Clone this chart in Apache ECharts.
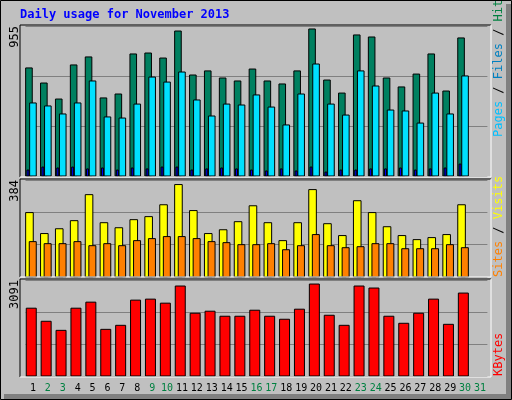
<!DOCTYPE html>
<html><head><meta charset="utf-8">
<script src="https://cdn.jsdelivr.net/npm/echarts@6/dist/echarts.min.js"></script>
<style>html,body{margin:0;padding:0;background:#c0c0c0}#c{width:512px;height:400px}</style>
</head><body><div id="c"></div>
<script>
const days = Array.from({length:31},(_,i)=>String(i+1));
const weekendDays = ['2','3','9','10','16','17','23','24','30','31'];
const hits  = [688,592,490,707,758,497,522,777,783,751,923,643,669,624,605,681,605,586,669,936,611,528,898,885,624,567,649,777,541,879,0];
const files = [465,446,395,465,605,376,369,458,630,598,662,484,382,458,452,516,439,325,522,713,458,388,669,573,420,414,337,528,395,637,0];
const pages = [38,57,51,57,45,51,38,51,45,57,57,38,45,51,45,38,32,45,32,57,25,38,38,45,45,51,38,45,51,76,0];
const visits= [255,172,191,223,326,215,195,227,239,286,366,263,172,187,219,282,215,144,215,346,211,164,302,255,199,164,148,156,168,286,0];
const sites = [140,132,132,140,124,132,124,144,152,160,160,152,140,136,128,128,132,108,124,168,124,116,120,132,132,112,112,112,128,116,0];
const kbytes= [2183,1762,1470,2183,2378,1502,1632,2443,2475,2345,2897,2021,2086,1924,1924,2118,1924,1827,2151,2961,1956,1632,2897,2832,1924,1697,2021,2475,1664,2670,0];
const maxHits = 955, maxVisits = 384, maxKB = 3091;

const mono = 'DejaVu Sans Mono';
const grids = [
  {left:25.5, width:461.9, top:26, height:150},
  {left:25.5, width:461.9, top:180, height:97},
  {left:25.5, width:461.9, top:280, height:96}
];
function yAx(i, max){
  return {type:'value', gridIndex:i, min:0, max:max, interval:max/3,
    axisLine:{show:false}, axisTick:{show:false},
    splitLine:{lineStyle:{color:'#808080', width:1}},
    axisLabel:{rotate:90, fontFamily:mono, fontSize:12, color:'#000', margin:5,
      align:'right', verticalAlign:'bottom',
      formatter:v=> v===max ? String(max) : ''}};
}
function xAx(i, show){
  return {type:'category', gridIndex:i, data:days, boundaryGap:true,
    axisLine:{show:false}, axisTick:{show:false}, splitLine:{show:false},
    axisLabel:{show:show, interval:0, fontFamily:mono, fontSize:10, margin:7,
      formatter:v=> weekendDays.includes(v) ? '{w|'+v+'}' : '{n|'+v+'}',
      rich:{w:{color:'#008040',fontFamily:mono,fontSize:10}, n:{color:'#000',fontFamily:mono,fontSize:10}}}};
}
function barsSeries(gi, arrays, specs){
  const data = days.map((d,i)=>[i].concat(arrays.map(a=>a[i])));
  return {type:'custom', xAxisIndex:gi, yAxisIndex:gi, data:data,
    renderItem:function(params, api){
      const idx = api.value(0);
      const children = [];
      specs.forEach((s,k)=>{
        const v = api.value(k+1);
        if(!v) return;
        const top = api.coord([idx, v]);
        const base = api.coord([idx, 0]);
        children.push({type:'rect', shape:{x:top[0]+s.o, y:top[1], width:s.w, height:base[1]-top[1]},
          style:{fill:s.c, stroke:'#000', lineWidth:1}});
      });
      return {type:'group', children:children};
    }};
}
function line(x1,y1,x2,y2,c,w){return {type:'line',shape:{x1,y1,x2,y2},style:{stroke:c,lineWidth:w||1},z:100};}
function panelFrame(t,b){return [line(20,t,491,t,'#000'),line(20,t,20,b,'#000'),line(491,t,491,b,'#fff'),line(20,b,491,b,'#fff')];}
const rich = {a:{fill:'#00c0ff',fontFamily:mono,fontSize:12},b:{fill:'#0080c0',fontFamily:mono,fontSize:12},
  g:{fill:'#008040',fontFamily:mono,fontSize:12},k:{fill:'#000',fontFamily:mono,fontSize:12},
  o:{fill:'#ff8000',fontFamily:mono,fontSize:12},y:{fill:'#ffff00',fontFamily:mono,fontSize:12},
  r:{fill:'#ff0000',fontFamily:mono,fontSize:12}};
function vtext(y, text){
  return {type:'text', x:499, y:y, rotation:Math.PI/2, z:100,
    style:{text:text, fontFamily:mono, fontSize:12, align:'left', verticalAlign:'middle', rich:rich}};
}
const chart = echarts.init(document.getElementById('c'));
chart.setOption({
  backgroundColor:'#c0c0c0', animation:false,
  grid:grids,
  xAxis:[xAx(0,false),xAx(1,false),xAx(2,true)],
  yAxis:[yAx(0,maxHits),yAx(1,maxVisits),yAx(2,maxKB)],
  series:[
    barsSeries(0,[hits,files,pages],[{o:-7.3,w:6.6,c:'#008060'},{o:-3.3,w:6.6,c:'#00e0ff'},{o:-6,w:2,c:'#0000ff'}]),
    barsSeries(1,[visits,sites],[{o:-7.3,w:7.6,c:'#ffff00'},{o:-3.7,w:7,c:'#ff8000'}]),
    barsSeries(2,[kbytes],[{o:-6.7,w:10,c:'#ff0000'}])
  ],
  graphic:[
    {type:'rect',shape:{x:0.5,y:0.5,width:511,height:399},style:{fill:null,stroke:'#000',lineWidth:1},z:100},
    {type:'rect',shape:{x:506,y:4,width:5,height:395},style:{fill:'#808080'},z:99},
    {type:'rect',shape:{x:4,y:394,width:507,height:5},style:{fill:'#808080'},z:99},
    {type:'text',x:20,y:15,z:100,style:{text:'Daily usage for November 2013',fontFamily:mono,fontWeight:'bold',fontSize:12,fill:'#0000ff',verticalAlign:'middle'}},
    ...panelFrame(25,177),...panelFrame(179,277),...panelFrame(279,377),
    vtext(137, '{a|Pages}{k| / }{b|Files}{k| / }{g|Hits}'),
    vtext(277, '{o|Sites}{k| / }{y|Visits}'),
    vtext(376, '{r|KBytes}')
  ]
});
</script></body></html>
